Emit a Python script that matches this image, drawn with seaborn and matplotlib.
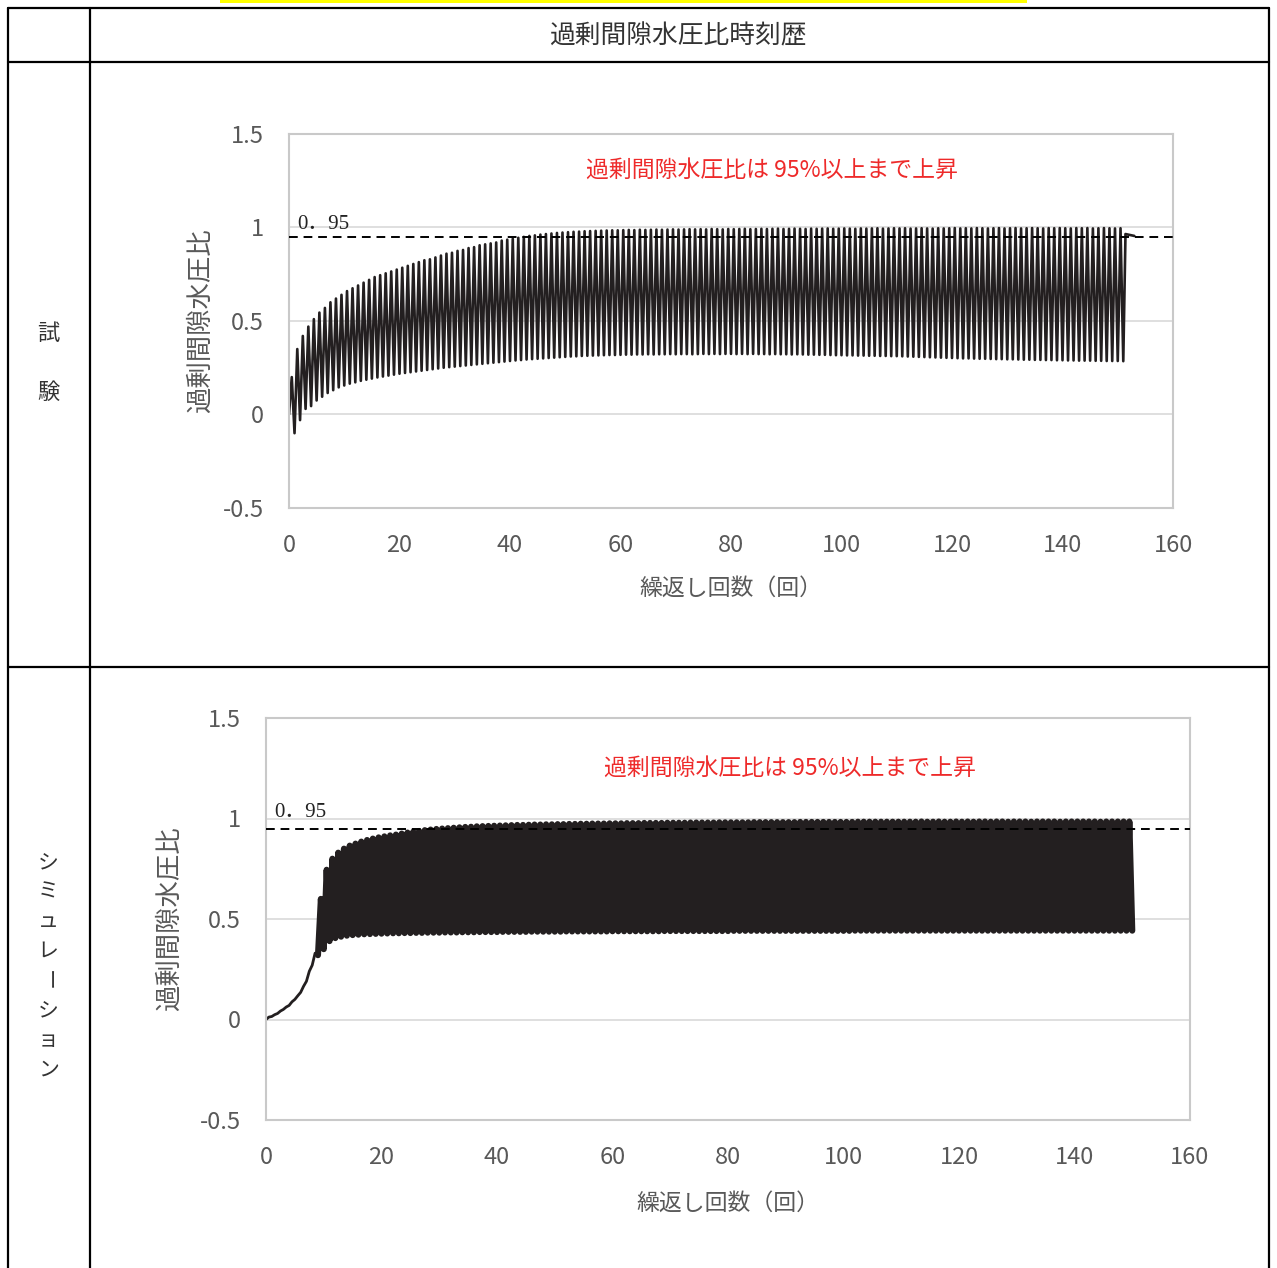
import numpy as np
import pandas as pd
import matplotlib
matplotlib.use("Agg")
import matplotlib.pyplot as plt
import seaborn as sns
from matplotlib.lines import Line2D
from matplotlib.patches import Rectangle
from matplotlib.transforms import blended_transform_factory

sns.set_style("white")
plt.rcParams['font.family'] = ['Noto Sans CJK JP', 'DejaVu Sans']

# --- data ---
header_title = "過剰間隙水圧比時刻歴"
row_test = ["試", "験"]
row_sim = list("シミュレーション")
note_text = "過剰間隙水圧比は 95%以上まで上昇"
ref_level = 0.95
ref_label = "0．95"
y_label = "過剰間隙水圧比"
x_label = "繰返し回数（回）"
x_ticks = [0, 20, 40, 60, 80, 100, 120, 140, 160]
y_ticks = [-0.5, 0, 0.5, 1, 1.5]
y_tick_labels = ["-0.5", "0", "0.5", "1", "1.5"]

# test: upper / lower turning points of each load cycle (151 cycles)
test_peaks = [
    0.20, 0.35, 0.42, 0.47, 0.51, 0.545, 0.57, 0.60, 0.62, 0.64,
    0.66, 0.675, 0.69, 0.705, 0.72, 0.735, 0.745, 0.755, 0.765, 0.775,
    0.785, 0.795, 0.805, 0.815, 0.825, 0.83, 0.84, 0.85, 0.86, 0.865,
    0.875, 0.88, 0.89, 0.895, 0.905, 0.91, 0.915, 0.92, 0.93, 0.935,
    0.94, 0.945, 0.95, 0.955, 0.958, 0.962, 0.965, 0.968, 0.971, 0.973,
    0.975, 0.977, 0.978, 0.98, 0.981, 0.982, 0.983, 0.984, 0.985, 0.985,
    0.986, 0.987, 0.986, 0.988, 0.987, 0.988, 0.989, 0.988, 0.989, 0.990,
    0.989, 0.990, 0.991, 0.990, 0.991, 0.990, 0.992, 0.991, 0.990, 0.992,
    0.991, 0.992, 0.993, 0.991, 0.992, 0.993, 0.992, 0.993, 0.994, 0.992,
    0.993, 0.994, 0.993, 0.992, 0.994, 0.993, 0.994, 0.995, 0.993, 0.994,
    0.995, 0.994, 0.993, 0.995, 0.994, 0.995, 0.996, 0.994, 0.995, 0.996,
    0.995, 0.996, 0.994, 0.995, 0.996, 0.995, 0.994, 0.996, 0.995, 0.996,
    0.997, 0.995, 0.996, 0.995, 0.997, 0.996, 0.995, 0.996, 0.997, 0.995,
    0.996, 0.997, 0.995, 0.996, 0.997, 0.996, 0.995, 0.997, 0.996, 0.997,
    0.996, 0.995, 0.997, 0.996, 0.997, 0.995, 0.996, 0.997, 0.996, 0.995, 0.996,
]
test_troughs = [
    -0.10, -0.03, 0.03, 0.045, 0.075, 0.095, 0.115, 0.13, 0.145, 0.155,
    0.165, 0.172, 0.18, 0.186, 0.192, 0.198, 0.203, 0.208, 0.213, 0.218,
    0.222, 0.226, 0.23, 0.234, 0.238, 0.242, 0.246, 0.25, 0.253, 0.256,
    0.259, 0.262, 0.265, 0.268, 0.271, 0.274, 0.277, 0.28, 0.283, 0.286,
    0.289, 0.291, 0.294, 0.296, 0.298, 0.300, 0.302, 0.304, 0.306, 0.308,
    0.31, 0.311, 0.313, 0.314, 0.315, 0.316, 0.317, 0.318, 0.318, 0.319,
    0.320, 0.320, 0.321, 0.321, 0.322, 0.321, 0.322, 0.322, 0.323, 0.322,
    0.323, 0.323, 0.322, 0.323, 0.324, 0.323, 0.324, 0.323, 0.324, 0.324,
    0.323, 0.324, 0.323, 0.324, 0.323, 0.323, 0.322, 0.323, 0.322, 0.322,
    0.321, 0.322, 0.321, 0.320, 0.320, 0.319, 0.319, 0.318, 0.317, 0.317,
    0.316, 0.316, 0.315, 0.315, 0.314, 0.314, 0.313, 0.313, 0.312, 0.312,
    0.311, 0.310, 0.309, 0.308, 0.307, 0.306, 0.305, 0.304, 0.303, 0.302,
    0.301, 0.300, 0.300, 0.299, 0.298, 0.298, 0.297, 0.296, 0.296, 0.295,
    0.295, 0.294, 0.293, 0.293, 0.292, 0.292, 0.291, 0.291, 0.290, 0.290,
    0.289, 0.289, 0.288, 0.288, 0.288, 0.287, 0.287, 0.286, 0.286, 0.286, 0.285,
]
test_start = 0.0
test_tail_x = [151.4, 153.0]
test_tail = [0.965, 0.955]

# simulation: upper / lower turning points of each cycle (150 cycles)
sim_peaks = [
    0.012, 0.024, 0.042, 0.062, 0.088, 0.118, 0.165, 0.24, 0.33, 0.60,
    0.745, 0.80, 0.83, 0.85, 0.865, 0.875, 0.885, 0.893, 0.90, 0.906,
    0.911, 0.916, 0.92, 0.925, 0.93, 0.934, 0.938, 0.942, 0.945, 0.948,
    0.950, 0.952, 0.954, 0.956, 0.958, 0.959, 0.961, 0.962, 0.963, 0.964,
    0.965, 0.966, 0.967, 0.968, 0.968, 0.969, 0.970, 0.970, 0.971, 0.971,
    0.972, 0.972, 0.973, 0.973, 0.974, 0.974, 0.975, 0.975, 0.975, 0.976,
    0.976, 0.976, 0.977, 0.977, 0.977, 0.978, 0.978, 0.978, 0.978, 0.979,
    0.979, 0.979, 0.979, 0.980, 0.980, 0.980, 0.980, 0.980, 0.981, 0.981,
    0.981, 0.981, 0.981, 0.981, 0.982, 0.982, 0.982, 0.982, 0.982, 0.982,
    0.982, 0.982, 0.983, 0.983, 0.983, 0.983, 0.983, 0.983, 0.983, 0.983,
    0.983, 0.983, 0.984, 0.984, 0.984, 0.984, 0.984, 0.984, 0.984, 0.984,
    0.984, 0.984, 0.984, 0.985, 0.984, 0.984, 0.985, 0.984, 0.984, 0.985,
    0.984, 0.985, 0.984, 0.985, 0.985, 0.984, 0.985, 0.985, 0.984, 0.985,
    0.985, 0.985, 0.984, 0.985, 0.985, 0.985, 0.985, 0.984, 0.985, 0.985,
    0.985, 0.985, 0.985, 0.985, 0.984, 0.985, 0.985, 0.985, 0.985, 0.985,
]
sim_troughs = [
    0.015, 0.03, 0.05, 0.07, 0.10, 0.135, 0.19, 0.27, 0.32, 0.35,
    0.39, 0.405, 0.412, 0.417, 0.42, 0.422, 0.424, 0.425, 0.426, 0.427,
    0.428, 0.429, 0.429, 0.430, 0.430, 0.431, 0.431, 0.432, 0.432, 0.432,
    0.433, 0.433, 0.433, 0.434, 0.434, 0.434, 0.435, 0.435, 0.435, 0.435,
    0.436, 0.436, 0.436, 0.436, 0.436, 0.437, 0.437, 0.437, 0.437, 0.437,
    0.437, 0.438, 0.438, 0.438, 0.438, 0.438, 0.438, 0.438, 0.438, 0.439,
    0.439, 0.439, 0.439, 0.439, 0.439, 0.439, 0.439, 0.439, 0.440, 0.440,
    0.440, 0.440, 0.440, 0.440, 0.440, 0.440, 0.440, 0.440, 0.440, 0.440,
    0.441, 0.441, 0.441, 0.441, 0.441, 0.441, 0.441, 0.441, 0.441, 0.441,
    0.441, 0.441, 0.441, 0.441, 0.441, 0.441, 0.441, 0.441, 0.441, 0.441,
    0.441, 0.442, 0.442, 0.442, 0.442, 0.442, 0.442, 0.442, 0.442, 0.442,
    0.442, 0.442, 0.442, 0.442, 0.442, 0.442, 0.442, 0.442, 0.442, 0.442,
    0.442, 0.442, 0.442, 0.442, 0.442, 0.442, 0.442, 0.442, 0.442, 0.442,
    0.442, 0.442, 0.442, 0.442, 0.442, 0.442, 0.442, 0.442, 0.442, 0.442,
    0.442, 0.442, 0.442, 0.442, 0.442, 0.442, 0.442, 0.442, 0.442, 0.442,
]
sim_start = 0.0
sim_rise_cycles = 9   # slow build-up before the large oscillation

line_color = '#231f20'
gray_txt = '#595959'
grid_col = '#d9d9d9'
spine_col = '#c9c9c9'
note_col = '#ee2a2a'


def cycle_frame(start, peaks, troughs, tail_x=None, tail=None):
    # each cycle: upper turning point at k-0.5, lower at k
    n = len(peaks)
    k = np.arange(1, n + 1)
    xs = np.empty(2 * n)
    ys = np.empty(2 * n)
    xs[0::2] = k - 0.5
    xs[1::2] = k
    ys[0::2] = peaks
    ys[1::2] = troughs
    xs = np.concatenate([[0.0], xs])
    ys = np.concatenate([[start], ys])
    if tail_x is not None:
        xs = np.concatenate([xs, tail_x])
        ys = np.concatenate([ys, tail])
    return pd.DataFrame({'cycle': xs, 'ratio': ys})


def style_axes(ax, ylab_x, xlab_y):
    ax.set_xlim(0, 160)
    ax.set_ylim(-0.5, 1.5)
    ax.set_xticks(x_ticks)
    ax.set_yticks(y_ticks)
    ax.set_yticklabels(y_tick_labels)
    ax.grid(False)
    for v in [0, 0.5, 1.0]:
        ax.axhline(v, color=grid_col, lw=1.2, zorder=0)
    for s in ax.spines.values():
        s.set_visible(True)
        s.set_color(spine_col)
        s.set_linewidth(1.5)
    ax.tick_params(axis='x', direction='in', length=4, width=1.2, color=spine_col,
                   labelsize=17, labelcolor=gray_txt, pad=19)
    ax.tick_params(axis='y', direction='out', length=4, width=1.2, color=spine_col,
                   labelsize=17, labelcolor=gray_txt, pad=14)
    ax.set_xlabel(x_label, fontsize=16.5, color=gray_txt, va='top')
    ax.set_ylabel(y_label, fontsize=19, color=gray_txt)
    ax.xaxis.set_label_coords(0.5, xlab_y)
    ax.yaxis.set_label_coords(ylab_x, 0.5)
    ax.axhline(ref_level, color='black', lw=1.4, ls=(0, (4.5, 3)), zorder=3, clip_on=False)


W, H = 1277, 1268
fig = plt.figure(figsize=(W / 100, H / 100), dpi=100)

# top panel: test
ax1 = fig.add_axes([289 / W, 1 - 508 / H, 884 / W, 374 / H])
df_test = cycle_frame(test_start, test_peaks, test_troughs, test_tail_x, test_tail)
sns.lineplot(data=df_test, x='cycle', y='ratio', ax=ax1, color=line_color, lw=1.9,
             sort=False, estimator=None, zorder=2)
style_axes(ax1, -0.085, -0.183)
ax1.text(1.45, 0.992, ref_label, fontsize=15, va='baseline', ha='left', color='#222222',
         family=['Liberation Serif', 'Noto Sans CJK JP'])
ax1.text(0.546, 1.307, note_text, fontsize=16.5, color=note_col, ha='center', va='center',
         transform=blended_transform_factory(ax1.transAxes, ax1.transData))

# bottom panel: simulation (thin build-up, then dense oscillation)
ax2 = fig.add_axes([266 / W, 1 - 1120 / H, 924 / W, 402 / H])
df_sim = cycle_frame(sim_start, sim_peaks, sim_troughs)
split = 2 * sim_rise_cycles + 1
sns.lineplot(data=df_sim.iloc[:split], x='cycle', y='ratio', ax=ax2, color=line_color,
             lw=2.0, sort=False, estimator=None, zorder=2)
sns.lineplot(data=df_sim.iloc[split - 1:], x='cycle', y='ratio', ax=ax2, color=line_color,
             lw=4.4, sort=False, estimator=None, zorder=2)
style_axes(ax2, -0.09, -0.178)
ax2.text(1.4, 1.006, ref_label, fontsize=15, va='baseline', ha='left', color='#222222',
         family=['Liberation Serif', 'Noto Sans CJK JP'])
ax2.text(0.567, 1.25, note_text, fontsize=16.5, color=note_col, ha='center', va='center',
         transform=blended_transform_factory(ax2.transAxes, ax2.transData))


# table frame
def fx(px):
    return px / W


def fy(py):
    return 1 - py / H


lw_tab = 1.6
for x in [8, 90, 1269]:
    fig.add_artist(Line2D([fx(x), fx(x)], [fy(8), fy(1268)], color='black', lw=lw_tab))
for y in [8, 62, 667]:
    fig.add_artist(Line2D([fx(8), fx(1269)], [fy(y), fy(y)], color='black', lw=lw_tab))
fig.add_artist(Rectangle((fx(220), fy(3)), fx(1027) - fx(220), 3 / H, color='#ffff00', lw=0))

fig.text(fx(678), fy(36), header_title, fontsize=18.5, ha='center', va='center', color='#333333')
for ch, py in zip(row_test, [333, 392]):
    fig.text(fx(48), fy(py), ch, fontsize=16, ha='center', va='center', color='#333333')
for i, ch in enumerate(row_sim):
    rot = -90 if ch == 'ー' else 0
    fig.text(fx(48), fy(862 + i * 29.7), ch, fontsize=15, ha='center', va='center',
             color='#333333', rotation=rot)

fig.savefig('out.png', dpi=100)
